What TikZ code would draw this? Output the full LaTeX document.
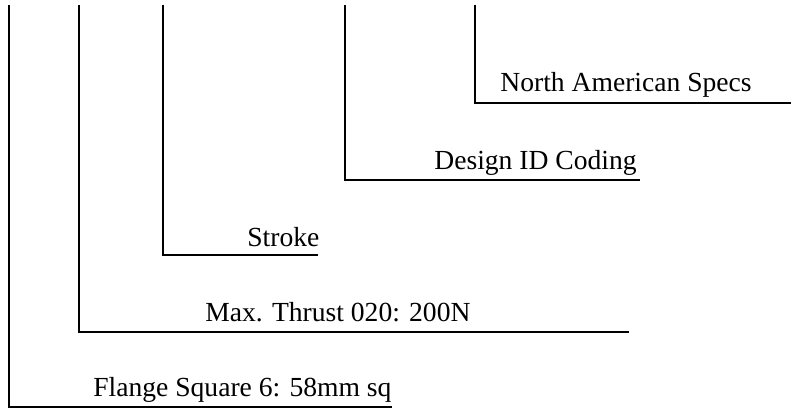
\documentclass[tikz,border=0pt]{standalone}
\usepackage{fontspec}
\setmainfont{Liberation Serif}
\tikzset{lead/.style={line width=0.95pt, black}, codelabel/.style={anchor=base west, inner sep=0pt, font=\fontsize{15.7}{18}\selectfont}}

\begin{document}
\begin{tikzpicture}
\useasboundingbox (0,0) rectangle (15.82,8.18);
% leader lines, top edge down to the label rule
\coordinate (flangetop) at (0.18,8.08); \coordinate (flangecorner) at (0.18,0.04); \coordinate (flangeend) at (7.84,0.04);
\coordinate (thrusttop) at (1.58,8.08); \coordinate (thrustcorner) at (1.58,1.54); \coordinate (thrustend) at (12.58,1.54);
\coordinate (stroketop) at (3.26,8.08); \coordinate (strokecorner) at (3.26,3.08); \coordinate (strokeend) at (6.36,3.08);
\coordinate (designtop) at (6.90,8.08); \coordinate (designcorner) at (6.90,4.58); \coordinate (designend) at (12.80,4.58);
\coordinate (spectop) at (9.50,8.08); \coordinate (speccorner) at (9.50,6.12); \coordinate (specend) at (15.82,6.12);
\draw[lead] (flangetop) -- (flangecorner) -- (flangeend);
\draw[lead] (thrusttop) -- (thrustcorner) -- (thrustend);
\draw[lead] (stroketop) -- (strokecorner) -- (strokeend);
\draw[lead] (designtop) -- (designcorner) -- (designend);
\draw[lead] (spectop) -- (speccorner) -- (specend);
% labels
\node[codelabel] (flange) at (1.86,0.24) {Flange Square 6: 58mm sq};
\node[codelabel] (thrust) at (4.10,1.74) {Max. Thrust 020: 200N};
\node[codelabel] (stroke) at (4.94,3.24) {Stroke};
\node[codelabel] (design) at (8.68,4.78) {Design ID Coding};
\node[codelabel] (spec) at (10.00,6.34) {North American Specs};
\end{tikzpicture}
\end{document}
